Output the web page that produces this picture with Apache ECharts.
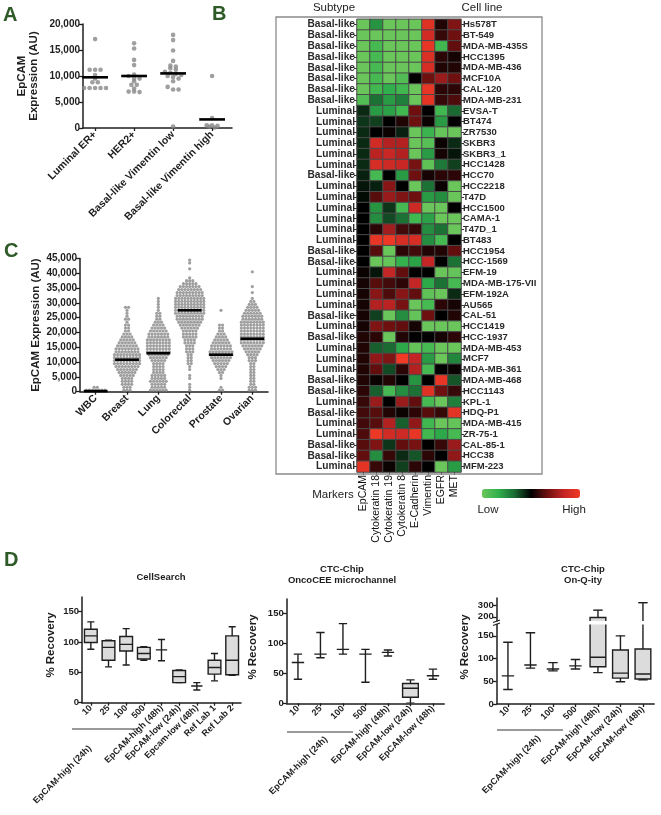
<!DOCTYPE html>
<html><head><meta charset="utf-8">
<script src="https://cdn.jsdelivr.net/npm/echarts@6/dist/echarts.min.js"></script>
<style>html,body{margin:0;padding:0;background:#fff}#c{width:661px;height:815px}</style>
</head><body><div id="c"></div>
<script>
// ---------- Panel A ----------
const aCategories = ['Luminal ER+', 'HER2+', 'Basal-like Vimentin low', 'Basal-like Vimentin high'];
const aLuminalER = [17100, 11200, 11200, 11200, 10200, 9500, 8800, 8800, 7700, 7700, 7700, 7700, 7700];
const aHER2 = [16300, 15300, 13100, 12100, 10300, 10000, 9500, 9500, 9000, 8300, 8300, 7600, 7000, 7000, 6900];
const aVimLow = [17900, 16900, 14900, 12900, 12000, 11800, 11500, 11200, 10800, 10600, 10400, 10200, 10000, 9800, 9500, 9000, 7900, 7400, 7400, 300];
const aVimHigh = [10000, 1900, 500, 500, 400, 300, 100];
const aMedians = [9750, 10000, 10500, 1650];
const aTicks = [0, 5000, 10000, 15000, 20000];

// ---------- Panel C (counts per 1000-AU bin, bin 0 = 0-1000) ----------
const cCategories = ['WBC', 'Breast', 'Lung', 'Colorectal', 'Prostate', 'Ovarian'];
const cWBC = [7, 2];
const cBreast = [3,3,4,4,4,5,6,7,8,9,9,9,9,8,8,7,6,5,4,3,2,2,2,1,2,1,1,1,2];
const cLung = [6,5,5,6,5,5,4,4,4,4,5,6,7,8,8,8,8,8,7,7,6,5,4,3,2,2,2,1,1,1,1,1];
const cColorectal = [1,1,1,0,1,1,0,1,1,2,2,2,2,3,3,3,4,4,5,5,5,6,7,8,9,9,10,10,10,10,10,10,9,9,8,7,5,3,1,0,0,1,0,1,1];
const cProstate = [2,1,0,0,1,1,2,3,4,5,6,7,8,8,7,7,6,5,4,3,2,2,2,0,0,0,0,1];
const cOvarian = [3,3,2,2,2,2,2,2,2,2,3,3,4,5,6,7,8,8,8,8,8,8,8,8,7,7,6,5,4,3,2,1,0,1,0,1,0,0,0,0,1];
const cMedians = [200, 10800, 13000, 27500, 12500, 17900];

// ---------- Panel B heatmap ----------
const heatMarkers = ['EpCAM', 'Cytokeratin 18', 'Cytokeratin 19', 'Cytokeratin 8', 'E-Cadherin', 'Vimentin', 'EGFR', 'MET'];
const heatSubtypes = ['Basal-like','Basal-like','Basal-like','Basal-like','Basal-like','Basal-like','Basal-like','Basal-like',
  'Luminal','Luminal','Luminal','Luminal','Luminal','Luminal','Basal-like','Luminal','Luminal','Luminal','Luminal','Luminal','Luminal',
  'Basal-like','Basal-like','Luminal','Luminal','Luminal','Luminal','Basal-like','Luminal','Basal-like','Luminal','Luminal','Luminal',
  'Basal-like','Basal-like','Luminal','Basal-like','Luminal','Luminal','Basal-like','Basal-like','Luminal'];
const heatCellLines = ['Hs578T','BT-549','MDA-MB-435S','HCC1395','MDA-MB-436','MCF10A','CAL-120','MDA-MB-231','EVSA-T','BT474',
  'ZR7530','SKBR3','SKBR3_1','HCC1428','HCC70','HCC2218','T47D','HCC1500','CAMA-1','T47D_1','BT483','HCC1954','HCC-1569',
  'EFM-19','MDA-MB-175-VII','EFM-192A','AU565','CAL-51','HCC1419','HCC-1937','MDA-MB-453','MCF7','MDA-MB-361','MDA-MB-468',
  'HCC1143','KPL-1','HDQ-P1','MDA-MB-415','ZR-75-1','CAL-85-1','HCC38','MFM-223'];
const heatValues = [
  [-3,-1.6,-3,-3,-3,2.6,0.3,1.2],
  [-3,-3,-3,-3,-3,2.3,0.5,1.0],
  [-3,-2.4,-3,-3,-3,2.8,-2.3,0.9],
  [-3,-2.4,-3,-3,-3,2.5,0.4,0.2],
  [-3,-2.4,-3,-3,-3,2.4,0.3,0.3],
  [-3,-2.4,-3,-2.6,0,1.0,1.5,1.0],
  [-3,-2.3,-2.0,-2.3,-3,2.8,0.4,0.4],
  [-2.6,-1.1,-1.7,-1.3,-3,2.7,0.5,0.7],
  [-0.4,-1.7,-1.8,-2.3,1.0,0,-2.3,-1.0],
  [-0.5,-0.6,0,0.3,1.0,0.1,-1.7,0],
  [-0.4,0,0.1,-0.3,-3,-2.2,-2.9,-3],
  [-0.4,2.3,1.8,1.8,-3,-2.7,0.1,-0.4],
  [-0.4,1.9,2.1,1.8,-3,-1.7,0.2,-0.2],
  [-0.4,2.4,2.2,2.1,1.1,-2.8,-1.2,-0.6],
  [-0.3,-2.4,0,-1.7,1.0,0.2,0.4,0.4],
  [-0.2,-0.3,1.3,0,-3,-1.1,0.1,-3],
  [-0.1,0.8,1.5,1.2,1.0,-1.7,-1.5,-3],
  [0,-1.6,-0.5,-2.4,2.2,-3,-3,0],
  [0,-1.5,-0.7,-1.1,-2.3,-1.8,-3,-3],
  [0,0.4,1.6,0.6,0.5,-1.5,-1.1,-3],
  [0,2.8,2.9,2.4,2.4,-1.5,-2.4,0],
  [0,0.8,-3,0.4,0.6,0.3,0.3,0.9],
  [0,-3,-2.9,-2.1,-1.8,2.0,0,-1.1],
  [0.1,-0.2,2.0,0.9,0,0,-3,-2.9],
  [0.2,0.8,0.6,0.4,2.0,-1.9,-1.1,-2.4],
  [0.2,1.3,0.7,1.3,0.9,-2.8,-3,-0.4],
  [0.2,1.8,1.9,1.1,-3,-2.4,0.4,0.2],
  [0.2,-0.6,-3,-1.5,-2.9,1.0,0,0.3],
  [0.2,1.2,1.0,0.9,0.2,-3,-3,-3],
  [0.3,0.4,-3,0.3,0,0,0.2,0.4],
  [0.3,-0.9,-1.0,-1.9,-2.9,-2.4,-3,-3],
  [0.3,1.4,1.2,3.0,2.0,-1.7,-3,-1.4],
  [0.3,0.9,-0.7,0.4,1.8,-2.4,0,0.1],
  [0.3,0.1,0.3,0,-1.6,0,2.8,-0.8],
  [0.4,-0.9,-2.4,-1.5,-1.1,2.6,1.0,0.5],
  [0.5,1.5,0,1.5,0.9,-2.4,-3,-1.3],
  [0.6,0.8,0.3,0.1,0.4,0.8,0.5,2.7],
  [0.6,0.8,1.8,-0.9,1.4,-2.3,-3,-2.9],
  [0.7,2.9,2.3,2.2,2.8,-2.3,-1.9,-2.4],
  [0.8,1.2,-0.5,0.9,1.1,0,0.5,1.5],
  [0.9,-1.5,0.5,-0.4,-0.8,0.4,0,1.4],
  [2.7,0.5,0.1,-0.6,0.4,0,-3,-1.7]
];

// ---------- Panel D (box: [min, q1, median, q3, max]) ----------
const dTicks = [0, 50, 100, 150];
const d1Categories = ['10','25','100','500','EpCAM-high (48h)','EpCAM-low (24h)','Epcam-low (48h)','Ref Lab 1','Ref Lab 2'];
const d1Boxes = [[88,99,110,121,133],[59,70,91,102,103],[62,85,96,109,122],[70,72,81,91,92],[69,87,87,87,104],[33,33,43,53,54],[21,27.5,27.5,27.5,33],[36,47,58,70,81],[45,46,70,110,125]];
const d2Categories = ['10','25','100','500','EpCAM-high (48h)','EpCAM-low (24h)','EpCAM-low (48h)'];
const d2Boxes = [[40,68,68,68,82],[76,82,82,82,118],[82,90,90,90,133],[35,82,82,82,90],[79,85,85,85,89],[0,10,25,33,39],[40,46,46,46,57]];
const d3Categories = ['10','25','100','500','EpCAM-high (48h)','EpCAM-low (24h)','EpCAM-low (48h)'];
const d3Boxes = [[32,62,62,62,136],[79,86,86,86,157],[73,77,77,77,91],[77,84,84,84,98],[69,82,103,195,257],[49,57,68,119,150],[53,55,66,121,320]];
const d3UpperTicks = [200, 300];

// ---------- helpers ----------
const FONT = '"Liberation Sans", Arial, Helvetica, sans-serif';
const INK = '#1e1e1e';
const GREEN = '#2d5a27';

function swarmFromValues(values, catIdx, bin, step) {
  const rows = {};
  values.forEach(v => { const k = Math.round(v / bin); (rows[k] = rows[k] || []).push(v); });
  const pts = [];
  Object.keys(rows).forEach(k => { const r = rows[k]; r.forEach((v, j) => pts.push([catIdx + (j - (r.length - 1) / 2) * step, v])); });
  return pts;
}
function swarmFromCounts(counts, catIdx, bin, step) {
  const pts = [];
  counts.forEach((n, i) => { for (let j = 0; j < n; j++) pts.push([catIdx + (j - (n - 1) / 2) * step, i * bin + bin / 2]); });
  return pts;
}
function medianSeries(xi, yi, medians, hw) {
  return {
    type: 'custom', xAxisIndex: xi, yAxisIndex: yi, z: 5,
    data: medians.map((m, i) => [i, m]),
    renderItem: (params, api) => {
      const c = api.value(0), m = api.value(1);
      const p1 = api.coord([c - hw, m]), p2 = api.coord([c + hw, m]);
      return { type: 'line', shape: { x1: p1[0], y1: p1[1], x2: p2[0], y2: p2[1] }, style: { stroke: '#000', lineWidth: 2.6 } };
    }
  };
}
function boxSeries(xi, yi, boxes, boxFrac, capFrac, crossFrac) {
  return {
    type: 'custom', xAxisIndex: xi, yAxisIndex: yi, clip: true,
    data: boxes.map((b, i) => [i].concat(b)),
    encode: { x: 0, y: [1, 2, 3, 4, 5] },
    renderItem: (params, api) => {
      const c = api.value(0);
      const v = [1, 2, 3, 4, 5].map(k => api.value(k));
      const band = api.size([1, 0])[0];
      const P = v.map(val => api.coord([c, val]));
      const cx = P[2][0];
      const st = { stroke: INK, lineWidth: 1.4, fill: null };
      const boxW = band * boxFrac, capW = band * capFrac;
      const isBox = v[3] > v[1];
      const medW = isBox ? boxW : band * crossFrac;
      const ch = [];
      if (isBox) ch.push({ type: 'rect', shape: { x: cx - boxW / 2, y: P[3][1], width: boxW, height: P[1][1] - P[3][1] }, style: { fill: '#dcdcdc', stroke: INK, lineWidth: 1.4 } });
      ch.push({ type: 'line', shape: { x1: cx, y1: P[4][1], x2: cx, y2: P[3][1] }, style: st });
      ch.push({ type: 'line', shape: { x1: cx, y1: P[1][1], x2: cx, y2: P[0][1] }, style: st });
      ch.push({ type: 'line', shape: { x1: cx - capW / 2, y1: P[4][1], x2: cx + capW / 2, y2: P[4][1] }, style: st });
      ch.push({ type: 'line', shape: { x1: cx - capW / 2, y1: P[0][1], x2: cx + capW / 2, y2: P[0][1] }, style: st });
      ch.push({ type: 'line', shape: { x1: cx - medW / 2, y1: P[2][1], x2: cx + medW / 2, y2: P[2][1] }, style: st });
      return { type: 'group', children: ch };
    }
  };
}
function txt(x, y, text, font, align, va, rot, fill) {
  return { type: 'text', x: x, y: y, rotation: rot || 0, silent: true, z: 10,
    style: { text: text, font: font, fill: fill || INK, align: align || 'left', verticalAlign: va || 'top', textAlign: align || 'left', textVerticalAlign: va || 'top' } };
}
function hline(x1, y1, x2, y2, color, w) {
  return { type: 'line', silent: true, shape: { x1: x1, y1: y1, x2: x2, y2: y2 }, style: { stroke: color, lineWidth: w } };
}

const axLine = { show: true, onZero: false, lineStyle: { color: INK, width: 1.5 } };
const axTick = { show: true, length: 4, lineStyle: { color: INK, width: 1.3 } };
const lblBold = (size) => ({ fontSize: size, fontWeight: 'bold', color: INK, fontFamily: FONT });

// ---------- grids ----------
const grids = [
  { left: 83, top: 24, width: 149, height: 104 },        // 0 A
  { left: 80, top: 258.5, width: 188, height: 133.2 },   // 1 C
  { left: 357, top: 19.3, width: 104, height: 452.7 },   // 2 B
  { left: 82, top: 597, width: 159, height: 105.7 },     // 3 D1
  { left: 286.7, top: 599, width: 157.5, height: 104.3 },// 4 D2
  { left: 496.7, top: 624.5, width: 157.5, height: 79.5 },// 5 D3 lower
  { left: 496.7, top: 598, width: 157.5, height: 23 }    // 6 D3 upper
];

const xAxes = [
  { gridIndex: 0, type: 'value', min: -0.31, max: 3.51, splitLine: { show: false }, axisLine: axLine,
    axisTick: Object.assign({}, axTick, { length: 3, customValues: [0, 1, 2, 3] }),
    axisLabel: Object.assign(lblBold(10.5), { customValues: [0, 1, 2, 3], formatter: v => aCategories[Math.round(v)], rotate: 45, margin: 5 }) },
  { gridIndex: 1, type: 'value', min: -0.5, max: 5.5, splitLine: { show: false }, axisLine: axLine,
    axisTick: Object.assign({}, axTick, { length: 3, customValues: [0, 1, 2, 3, 4, 5] }),
    axisLabel: Object.assign(lblBold(10.5), { customValues: [0, 1, 2, 3, 4, 5], formatter: v => cCategories[Math.round(v)], rotate: 45, margin: 5 }) },
  { gridIndex: 2, type: 'category', data: heatMarkers, position: 'bottom', axisLine: { show: false },
    axisTick: { show: true, alignWithLabel: true, length: 3, lineStyle: { color: '#333' } },
    axisLabel: { interval: 0, rotate: 90, fontSize: 10.5, color: '#111', fontFamily: FONT, margin: 3 } },
  { gridIndex: 3, type: 'category', data: d1Categories, axisLine: axLine,
    axisTick: Object.assign({}, axTick, { alignWithLabel: true, length: 3 }),
    axisLabel: Object.assign(lblBold(9), { interval: 0, rotate: 45, margin: 4 }) },
  { gridIndex: 4, type: 'category', data: d2Categories, axisLine: axLine,
    axisTick: Object.assign({}, axTick, { alignWithLabel: true, length: 3 }),
    axisLabel: Object.assign(lblBold(9), { interval: 0, rotate: 45, margin: 4 }) },
  { gridIndex: 5, type: 'category', data: d3Categories, axisLine: axLine,
    axisTick: Object.assign({}, axTick, { alignWithLabel: true, length: 3 }),
    axisLabel: Object.assign(lblBold(9), { interval: 0, rotate: 45, margin: 4 }) },
  { gridIndex: 6, type: 'category', data: d3Categories, show: false }
];

const yAxes = [
  { gridIndex: 0, type: 'value', min: 0, max: 20000, splitLine: { show: false }, axisLine: axLine,
    axisTick: Object.assign({}, axTick, { customValues: aTicks }), axisLabel: Object.assign(lblBold(10), { customValues: aTicks, margin: 3 }),
    name: 'EpCAM\nExpression (AU)', nameLocation: 'middle', nameRotate: 90, nameGap: 43,
    nameTextStyle: { fontSize: 11.5, fontWeight: 'bold', color: INK, fontFamily: FONT, lineHeight: 12 } },
  { gridIndex: 1, type: 'value', min: 0, max: 45000, interval: 5000, splitLine: { show: false }, axisLine: axLine,
    axisTick: axTick, axisLabel: Object.assign(lblBold(10), { margin: 3 }),
    name: 'EpCAM Expression (AU)', nameLocation: 'middle', nameRotate: 90, nameGap: 38,
    nameTextStyle: { fontSize: 11.5, fontWeight: 'bold', color: INK, fontFamily: FONT } },
  { gridIndex: 2, type: 'category', data: heatSubtypes, inverse: true, position: 'left', axisLine: { show: false },
    axisTick: { show: true, alignWithLabel: true, length: 3, lineStyle: { color: '#333' } },
    axisLabel: { interval: 0, fontSize: 10.2, fontWeight: 'bold', color: '#2a2a2a', fontFamily: FONT, margin: 2 } },
  { gridIndex: 2, type: 'category', data: heatCellLines, inverse: true, position: 'right', axisLine: { show: false },
    axisTick: { show: true, alignWithLabel: true, length: 3, lineStyle: { color: '#333' } },
    axisLabel: { interval: 0, fontSize: 9.5, fontWeight: 'bold', color: '#2a2a2a', fontFamily: FONT, margin: 2 } },
  { gridIndex: 3, type: 'value', min: 0, max: 174, splitLine: { show: false }, axisLine: axLine,
    axisTick: Object.assign({}, axTick, { customValues: dTicks }), axisLabel: Object.assign(lblBold(9.5), { customValues: dTicks, margin: 3 }) },
  { gridIndex: 4, type: 'value', min: 0, max: 174, splitLine: { show: false }, axisLine: axLine,
    axisTick: Object.assign({}, axTick, { customValues: dTicks }), axisLabel: Object.assign(lblBold(9.5), { customValues: dTicks, margin: 3 }) },
  { gridIndex: 5, type: 'value', min: 0, max: 175, splitLine: { show: false }, axisLine: axLine,
    axisTick: Object.assign({}, axTick, { customValues: dTicks }), axisLabel: Object.assign(lblBold(9.5), { customValues: dTicks, margin: 3 }) },
  { gridIndex: 6, type: 'value', min: 165, max: 360, splitLine: { show: false }, axisLine: axLine,
    axisTick: Object.assign({}, axTick, { customValues: d3UpperTicks }), axisLabel: Object.assign(lblBold(9.5), { customValues: d3UpperTicks, margin: 3 }) }
];

const heatData = [];
heatValues.forEach((row, r) => row.forEach((v, c) => heatData.push([c, r, v])));

const pointStyle = { color: '#878787' };
const series = [
  { type: 'scatter', xAxisIndex: 0, yAxisIndex: 0, symbolSize: 4.6, itemStyle: pointStyle,
    data: [].concat(swarmFromValues(aLuminalER, 0, 700, 0.14), swarmFromValues(aHER2, 1, 700, 0.14), swarmFromValues(aVimLow, 2, 700, 0.14), swarmFromValues(aVimHigh, 3, 700, 0.14)) },
  medianSeries(0, 0, aMedians, 0.33),
  { type: 'scatter', xAxisIndex: 1, yAxisIndex: 1, symbolSize: 3.2, itemStyle: pointStyle,
    data: [].concat(swarmFromCounts(cWBC, 0, 1000, 0.1), swarmFromCounts(cBreast, 1, 1000, 0.1), swarmFromCounts(cLung, 2, 1000, 0.1),
      swarmFromCounts(cColorectal, 3, 1000, 0.1), swarmFromCounts(cProstate, 4, 1000, 0.1), swarmFromCounts(cOvarian, 5, 1000, 0.1)) },
  medianSeries(1, 1, cMedians, 0.38),
  { type: 'heatmap', xAxisIndex: 2, yAxisIndex: 3, data: heatData, itemStyle: { borderColor: '#4a4a4a', borderWidth: 1 }, emphasis: { disabled: true } },
  boxSeries(3, 4, d1Boxes, 0.72, 0.4, 0.64),
  boxSeries(4, 5, d2Boxes, 0.7, 0.37, 0.55),
  boxSeries(5, 6, d3Boxes, 0.7, 0.42, 0.55),
  boxSeries(6, 7, d3Boxes, 0.7, 0.42, 0.55)
];

const graphics = [
  txt(3, 5, 'A', 'bold 20px ' + FONT, 'left', 'top', 0, GREEN),
  txt(212, 4, 'B', 'bold 20px ' + FONT, 'left', 'top', 0, GREEN),
  txt(4, 241, 'C', 'bold 20px ' + FONT, 'left', 'top', 0, GREEN),
  txt(4, 550, 'D', 'bold 20px ' + FONT, 'left', 'top', 0, GREEN),
  { type: 'rect', silent: true, z: 1, shape: { x: 276, y: 17, width: 266, height: 457 }, style: { fill: null, stroke: '#8a8a8a', lineWidth: 1.3 } },
  txt(334, 8, 'Subtype', '11.5px ' + FONT, 'center', 'middle', 0, '#222'),
  txt(482, 8, 'Cell line', '11.5px ' + FONT, 'center', 'middle', 0, '#222'),
  txt(333, 495, 'Markers', '11.5px ' + FONT, 'center', 'middle', 0, '#222'),
  txt(488, 510, 'Low', '11.5px ' + FONT, 'center', 'middle', 0, '#222'),
  txt(574, 510, 'High', '11.5px ' + FONT, 'center', 'middle', 0, '#222'),
  // Panel D titles
  txt(161, 577, 'CellSearch', 'bold 9.5px ' + FONT, 'center', 'middle'),
  txt(342, 569, 'CTC-Chip', 'bold 9.5px ' + FONT, 'center', 'middle'),
  txt(342, 580, 'OncoCEE microchannel', 'bold 9.5px ' + FONT, 'center', 'middle'),
  txt(583, 569, 'CTC-Chip', 'bold 9.5px ' + FONT, 'center', 'middle'),
  txt(583, 580, 'On-Q-ity', 'bold 9.5px ' + FONT, 'center', 'middle'),
  // % Recovery
  txt(51, 645, '% Recovery', 'bold 11.5px ' + FONT, 'center', 'middle', Math.PI / 2),
  txt(253, 647, '% Recovery', 'bold 11.5px ' + FONT, 'center', 'middle', Math.PI / 2),
  txt(465, 647, '% Recovery', 'bold 11.5px ' + FONT, 'center', 'middle', Math.PI / 2),
  // group underlines and labels
  hline(72, 729, 138, 729, '#9a9a9a', 2),
  hline(287, 732, 353, 732, '#9a9a9a', 2),
  hline(497, 730, 563, 730, '#9a9a9a', 2),
  txt(90, 747, 'EpCAM-high (24h)', 'bold 9px ' + FONT, 'right', 'middle', Math.PI / 4),
  txt(326, 738, 'EpCAM-high (24h)', 'bold 9px ' + FONT, 'right', 'middle', Math.PI / 4),
  txt(539, 737, 'EpCAM-high (24h)', 'bold 9px ' + FONT, 'right', 'middle', Math.PI / 4),
  // axis break marks D3
  hline(493, 622.5, 500, 620, INK, 1.2),
  hline(493, 625.5, 500, 623, INK, 1.2)
];

const chart = echarts.init(document.getElementById('c'), null, { renderer: 'canvas' });
chart.setOption({
  animation: false,
  backgroundColor: '#fff',
  textStyle: { fontFamily: FONT },
  grid: grids,
  xAxis: xAxes,
  yAxis: yAxes,
  visualMap: {
    type: 'continuous', seriesIndex: 4, min: -3, max: 3, orient: 'horizontal', left: 482, top: 489,
    itemWidth: 9, itemHeight: 98, calculable: false, showLabel: false, text: null, padding: 0, hoverLink: false,
    inRange: { color: ['#6ac65a', '#2fb04c', '#1a6a32', '#000000', '#6e1010', '#c42525', '#f03a25'] }
  },
  series: series,
  graphic: graphics
});
</script></body></html>
